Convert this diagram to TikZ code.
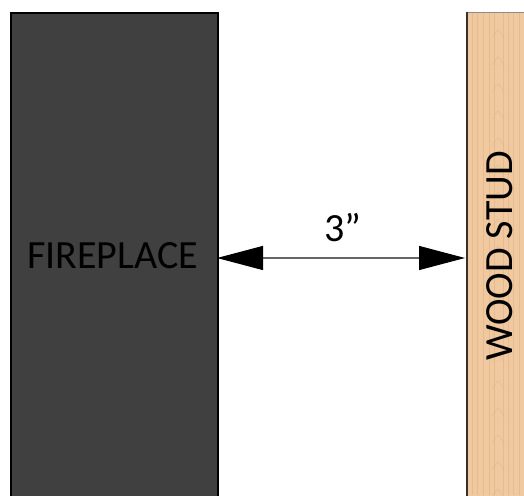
\documentclass[tikz,border=0pt]{standalone}
\usepackage{fontspec}
\setmainfont{Carlito}
\usetikzlibrary{arrows.meta}
\definecolor{fpgray}{HTML}{404040}
\definecolor{wood}{HTML}{F1C9A0}
\definecolor{woodgrain}{HTML}{DDAE80}
\definecolor{woodedge}{HTML}{3A3029}
\tikzset{
  bigtext/.style={font=\fontsize{40}{48}\selectfont, text=black, inner sep=0pt},
  dimline/.style={draw=black!60, line width=1.2pt, {Triangle[length=46pt,width=24pt,color=black]}-{Triangle[length=46pt,width=24pt,color=black]}},
  grain/.style={draw=woodgrain, line width=0.4pt, opacity=0.5}
}
\begin{document}
\begin{tikzpicture}[x=1pt,y=1pt]
\useasboundingbox (0,0) rectangle (524,495);
\clip (0,0) rectangle (524,495);
% fireplace
\node[draw=black, line width=2pt, fill=fpgray, minimum width=207pt, minimum height=500pt, inner sep=0pt, anchor=north west] (fireplace) at (9.5,483) {};
% wood stud
\node[fill=wood, minimum width=70pt, minimum height=500pt, inner sep=0pt, anchor=north west] (stud) at (467,483) {};
\foreach \x in {472,477,483,489,494,503,508,513,519}
  \draw[grain] (\x,0) -- (\x,483);
\foreach \y in {6,33,60,87,114,141,168,195,222,249,276,303,330,357,384,411,438,465}
  \draw[grain, opacity=0.6] (492,\y-8) .. controls (496,\y-2) .. (498,\y) .. controls (500,\y-2) .. (504,\y-8);
\draw[black!45, line width=0.8pt] (467,483) -- (524,483);
\draw[woodedge, line width=2pt] (stud.north west) -- (stud.south west);
% texts
\node[bigtext] (fptext) at (112.5,239) {FIREPLACE};
\node[bigtext, rotate=90] (studtext) at (500,239) {WOOD STUD};
\node[bigtext, anchor=base] (dimtext) at (343,253) {3”};
% dimension
\coordinate (dimL) at (217,237);
\coordinate (dimR) at (465,237);
\draw[dimline] (dimL) -- (dimR);
\end{tikzpicture}
\end{document}
